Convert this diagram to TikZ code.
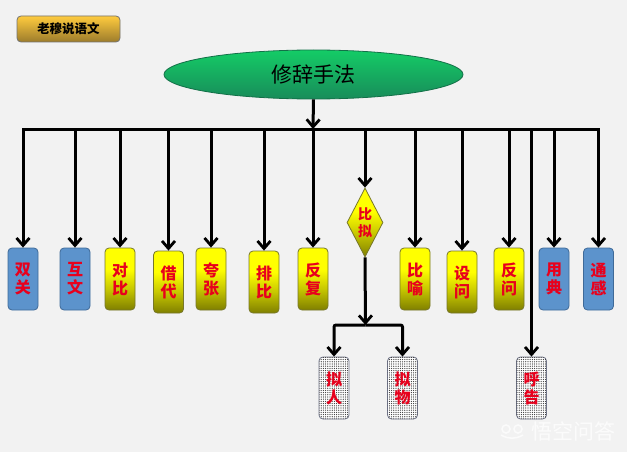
\documentclass[tikz,border=0pt]{standalone}
\usepackage{fontspec}
\setmainfont{Noto Sans CJK SC}
\usetikzlibrary{arrows.meta,shapes.geometric,positioning,patterns.meta}
\definecolor{pagebg}{HTML}{F2F2F2}
\definecolor{labelred}{HTML}{E8001C}
\definecolor{leafblue}{HTML}{5C93CC}
\definecolor{leafblueline}{HTML}{3F6A98}
\definecolor{leafyellowline}{HTML}{77772A}
\definecolor{dotline}{HTML}{6F7488}
\definecolor{tagtop}{HTML}{FFCB3E}
\definecolor{tagbottom}{HTML}{9C7C2C}
\definecolor{roottop}{HTML}{14CC66}
\definecolor{rootbottom}{HTML}{188C5A}
\pgfdeclareverticalshading{yellowfade}{100bp}{
  color(0bp)=(black!50!yellow); color(25bp)=(black!50!yellow); color(42bp)=(black!22!yellow);
  color(58bp)=(yellow); color(100bp)=(yellow)}
\tikzset{
  basic/.style   = {draw, rounded corners=4pt, line width=.8pt, align=center, inner sep=0pt,
                    minimum width=30pt, minimum height=62pt, text=labelred,
                    font=\fontsize{16}{18}\selectfont\bfseries},
  blue box/.style   = {basic, fill=leafblue, draw=leafblueline},
  yellow box/.style = {basic, draw=leafyellowline, shading=yellowfade},
  dot box/.style    = {basic, draw=dotline, postaction={pattern={Dots[distance=2.2pt,radius=.62pt]},
                    pattern color=black!80}, fill=white},
  tag/.style     = {draw=black!55, rounded corners=4pt, line width=.8pt, minimum width=103pt,
                    minimum height=26pt, inner sep=0pt, top color=tagtop,
                    bottom color=tagbottom, font=\fontsize{12.5}{14}\selectfont\bfseries},
  root/.style    = {ellipse, draw=rootbottom!80!black, line width=.8pt, minimum width=299pt,
                    minimum height=49pt, inner sep=0pt, top color=roottop,
                    bottom color=rootbottom, font=\fontsize{21}{24}\selectfont},
  branch/.style  = {diamond, aspect=.52, draw=leafyellowline, line width=.8pt, minimum width=36pt,
                    minimum height=69pt, inner sep=0pt, align=center, text=labelred,
                    shading=yellowfade,
                    font=\fontsize{14}{17}\selectfont\bfseries},
  link/.style    = {line width=3pt},
  arrowed/.style = {link, -{Straight Barb[length=7.5pt,width=13pt,line width=2.8pt]}}
}

\begin{document}
\begin{tikzpicture}[x=1pt,y=-1pt]
\useasboundingbox[fill=pagebg] (0,0) rectangle (627,452);

% title and root
\node[tag] (tag) at (68.5,29) {老穆说语文};
\node[root] (root) at (313.5,74.5) {修辞手法};

% the bus
\coordinate (busl) at (23,129);
\coordinate (busr) at (598,129);
\coordinate (busm) at (313,129);

% the leaves of the first row
\node[blue box] (c1) at (23,279) {双\\关};
\node[blue box] (c2) at (75,279) {互\\文};
\node[yellow box] (c3) at (120,279) {对\\比};
\node[yellow box] (c4) at (168.5,282) {借\\代};
\node[yellow box] (c5) at (211,279) {夸\\张};
\node[yellow box] (c6) at (264,282) {排\\比};
\node[yellow box] (c7) at (313,279) {反\\复};
\node[yellow box] (c8) at (415,279) {比\\喻};
\node[yellow box] (c9) at (462,282) {设\\问};
\node[yellow box] (c10) at (509,279) {反\\问};
\node[blue box] (c11) at (554,279) {用\\典};
\node[blue box] (c12) at (598.5,279) {通\\感};

\node[branch] (mid) at (365,222.5) {比\\拟};

% the second row
\node[dot box] (d1) at (334,388) {拟\\人};
\node[dot box] (d2) at (402.5,388) {拟\\物};
\node[dot box] (d3) at (531.5,388) {呼\\告};
\coordinate (fork) at (365.5,325);

% lines
\draw[link, line cap=rect] (busl) -- (busr);
\draw[arrowed] (root.south) -- (busm);

\foreach \value in {1,...,12}
  \draw[arrowed] (c\value.north |- busl) -- (c\value.north);

\draw[arrowed] (mid.north |- busl) -- (mid.north);
\draw[arrowed] (d3.north |- busl) -- (d3.north);
\draw[arrowed] (mid.south) -- (fork);
\draw[arrowed, rounded corners=2pt] (fork) -| (d1.north);
\draw[arrowed, rounded corners=2pt] (fork) -| (d2.north);

% watermark
\node[text=white, opacity=.75, font=\fontsize{21}{24}\selectfont, inner sep=0pt] (mark) at (573,431) {悟空问答};
\draw[white, opacity=.75, line width=1.5pt] (506,429) circle (4pt) (518,429) circle (4pt)
  (501,435) to[bend right=30] (523,435);
\end{tikzpicture}
\end{document}
